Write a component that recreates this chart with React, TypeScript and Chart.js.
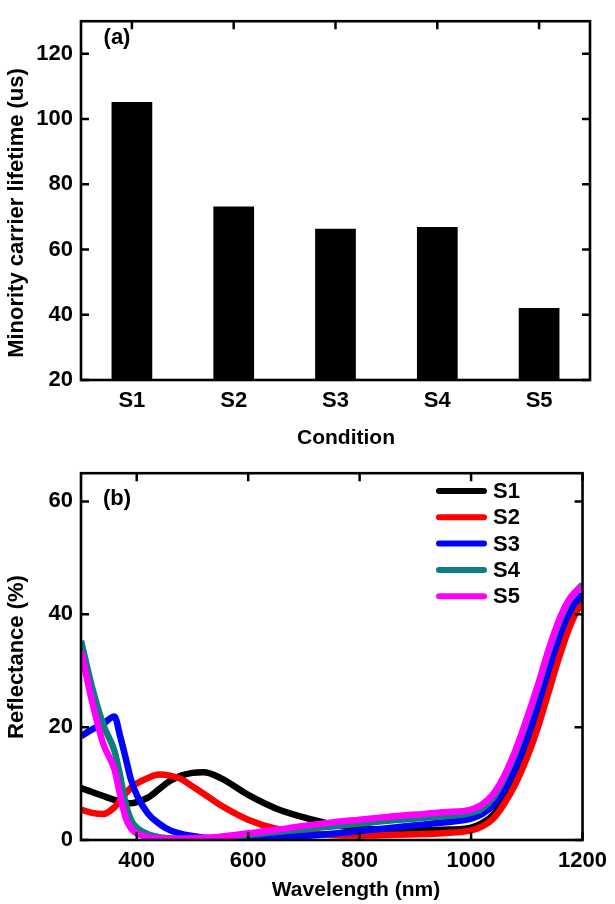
import React, { useEffect, useRef } from "react";
import { Chart, registerables } from "chart.js";

Chart.register(...registerables);

const FONT = '"Liberation Sans", Arial, Helvetica, sans-serif';

// ---- Panel (a) data ----
const conditions = ["S1", "S2", "S3", "S4", "S5"];
const lifetimes = [105.2, 73.2, 66.4, 66.9, 42.1];
const lifetimeTicks = [20, 40, 60, 80, 100, 120];

// ---- Panel (b) data ----
const wavelengths = [
  300, 320, 340, 360, 370, 380, 390, 400, 420, 440, 460, 480, 500, 520, 550, 600, 650, 700, 750, 800,
  850, 900, 950, 1000, 1020, 1040, 1060, 1080, 1100, 1120, 1140, 1160, 1180, 1200,
];
const reflS1 = [
  9.2, 8.5, 7.8, 7.1, 6.8, 6.6, 6.5, 6.7, 7.5, 9.0, 10.5, 11.4, 11.9, 12.0, 11.0, 8.0, 5.6, 4.0, 2.8, 2.1,
  1.8, 1.7, 1.8, 2.2, 3.0, 4.5, 7.5, 11.5, 16.5, 22.5, 29.0, 35.0, 40.0, 43.2,
];
const reflS2 = [
  5.4, 4.8, 4.6, 5.8, 7.0, 8.2, 9.3, 10.0, 11.0, 11.6, 11.4, 10.8, 9.5, 8.2, 6.2, 3.6, 2.0, 1.3, 0.9, 0.8,
  0.9, 1.0, 1.2, 1.7, 2.4, 3.8, 6.5, 10.0, 14.5, 20.0, 26.5, 33.0, 38.5, 42.4,
];
const reflS3 = [
  18.4, 19.6, 20.6, 21.9, 18.5, 14.6, 10.6, 8.0, 4.7, 2.9, 1.7, 1.1, 0.7, 0.4, 0.2, 0.2, 0.4, 0.7, 1.1, 1.6,
  2.1, 2.6, 3.1, 3.8, 4.6, 6.2, 9.0, 13.0, 18.0, 24.0, 30.5, 36.5, 41.0, 43.6,
];
const reflS4 = [
  35.3, 27.0, 20.4, 15.8, 11.5, 6.5, 3.5, 2.2, 1.0, 0.5, 0.3, 0.2, 0.2, 0.2, 0.4, 0.9, 1.4, 1.9, 2.4, 2.9,
  3.4, 3.8, 4.2, 4.8, 5.6, 7.5, 11.0, 15.5, 21.0, 27.0, 33.5, 39.0, 43.0, 45.3,
];
const reflS5 = [
  33.5, 24.5, 17.0, 12.5, 8.0, 4.0, 2.0, 1.2, 0.5, 0.3, 0.2, 0.2, 0.3, 0.4, 0.6, 1.2, 1.8, 2.5, 3.1, 3.6,
  4.1, 4.5, 4.9, 5.4, 6.3, 8.2, 11.5, 16.0, 21.5, 27.5, 34.0, 39.5, 43.2, 45.0,
];
const seriesNames = ["S1", "S2", "S3", "S4", "S5"];
const seriesValues = [reflS1, reflS2, reflS3, reflS4, reflS5];
const seriesColors = ["#000000", "#ff0000", "#0000ff", "#0a7f7f", "#ff00ff"];
const wavelengthTicks = [400, 600, 800, 1000, 1200];
const reflectanceTicks = [0, 20, 40, 60];

// Frame + inward ticks on all four sides
const framePlugin = {
  id: "frameTicks",
  afterDatasetsDraw(chart: any) {
    const { ctx, chartArea: a } = chart;
    const xs = chart.scales.x;
    const ys = chart.scales.y;
    const len = 8;
    ctx.save();
    ctx.strokeStyle = "#000";
    ctx.lineWidth = 2.5;
    ctx.beginPath();
    xs.ticks.forEach((_t: any, i: number) => {
      const p = xs.getPixelForTick(i);
      ctx.moveTo(p, a.bottom);
      ctx.lineTo(p, a.bottom - len);
      ctx.moveTo(p, a.top);
      ctx.lineTo(p, a.top + len);
    });
    ys.ticks.forEach((_t: any, i: number) => {
      const p = ys.getPixelForTick(i);
      ctx.moveTo(a.left, p);
      ctx.lineTo(a.left + len, p);
      ctx.moveTo(a.right, p);
      ctx.lineTo(a.right - len, p);
    });
    ctx.stroke();
    ctx.lineWidth = 2.6;
    ctx.strokeRect(a.left, a.top, a.right - a.left, a.bottom - a.top);
    ctx.restore();
  },
};

// Axis titles and panel label
const titlesPlugin = {
  id: "customTitles",
  afterDraw(chart: any, _args: any, opts: any) {
    const { ctx } = chart;
    ctx.save();
    ctx.fillStyle = "#000";
    ctx.textAlign = "center";
    ctx.textBaseline = "middle";
    ctx.font = `bold 21px ${FONT}`;
    ctx.fillText(opts.xTitle, opts.xTitleX, opts.xTitleY);
    ctx.font = `bold 22px ${FONT}`;
    ctx.fillText(opts.panel, opts.panelX, opts.panelY);
    ctx.translate(opts.yTitleX, opts.yTitleY);
    ctx.rotate(-Math.PI / 2);
    ctx.fillText(opts.yTitle, 0, 0);
    ctx.restore();
  },
};

// Legend inside plot (b)
const legendPlugin = {
  id: "innerLegend",
  afterDraw(chart: any, _args: any, opts: any) {
    if (!opts || !opts.show) return;
    const { ctx } = chart;
    ctx.save();
    ctx.lineCap = "round";
    ctx.lineWidth = 6;
    ctx.font = `bold 22px ${FONT}`;
    ctx.textAlign = "left";
    ctx.textBaseline = "middle";
    seriesNames.forEach((name, i) => {
      const y = opts.y0 + i * opts.dy;
      ctx.strokeStyle = seriesColors[i];
      ctx.beginPath();
      ctx.moveTo(opts.x0, y);
      ctx.lineTo(opts.x1, y);
      ctx.stroke();
      ctx.fillStyle = "#000";
      ctx.fillText(name, opts.tx, y + 1);
    });
    ctx.restore();
  },
};

const tickFont = { family: FONT, size: 22, weight: "bold" as const };
const plainNumber = (v: any) => String(v);

function BarPanel() {
  const ref = useRef<HTMLCanvasElement>(null);
  useEffect(() => {
    const chart = new Chart(ref.current!, {
      type: "bar",
      data: {
        labels: conditions,
        datasets: [
          {
            data: lifetimes,
            backgroundColor: "#000",
            borderWidth: 0,
            barPercentage: 0.4,
            categoryPercentage: 1.0,
          },
        ],
      },
      options: {
        animation: false,
        responsive: false,
        devicePixelRatio: 1,
        layout: { padding: { left: 0, right: 25, top: 8, bottom: 0 } },
        plugins: {
          legend: { display: false },
          tooltip: { enabled: false },
          customTitles: {
            xTitle: "Condition",
            xTitleX: 346,
            xTitleY: 438,
            yTitle: "Minority carrier lifetime (us)",
            yTitleX: 17,
            yTitleY: 213,
            panel: "(a)",
            panelX: 117,
            panelY: 38,
          },
        } as any,
        scales: {
          x: {
            grid: { display: false, drawTicks: false },
            border: { display: false },
            ticks: { color: "#000", font: tickFont, padding: 8 },
            afterFit: (s: any) => {
              s.height = 72;
            },
          },
          y: {
            min: 20,
            max: 130,
            grid: { display: false, drawTicks: false },
            border: { display: false },
            ticks: { color: "#000", font: tickFont, padding: 8, callback: plainNumber },
            afterBuildTicks: (s: any) => {
              s.ticks = lifetimeTicks.map((v) => ({ value: v }));
            },
            afterFit: (s: any) => {
              s.width = 81;
            },
          },
        },
      },
      plugins: [framePlugin, titlesPlugin],
    });
    return () => chart.destroy();
  }, []);
  return <canvas ref={ref} width={615} height={452} style={{ display: "block" }} />;
}

function LinePanel() {
  const ref = useRef<HTMLCanvasElement>(null);
  useEffect(() => {
    const chart = new Chart(ref.current!, {
      type: "line",
      data: {
        datasets: seriesNames.map((name, i) => ({
          label: name,
          data: wavelengths.map((w, j) => ({ x: w, y: seriesValues[i][j] })),
          borderColor: seriesColors[i],
          backgroundColor: seriesColors[i],
          borderWidth: 6.5,
          pointRadius: 0,
          cubicInterpolationMode: "monotone" as const,
          fill: false,
          order: seriesNames.length - 1 - i,
        })),
      },
      options: {
        animation: false,
        responsive: false,
        devicePixelRatio: 1,
        layout: { padding: { left: 0, right: 25, top: 16, bottom: 0 } },
        plugins: {
          legend: { display: false },
          tooltip: { enabled: false },
          customTitles: {
            xTitle: "Wavelength (nm)",
            xTitleX: 356,
            xTitleY: 438,
            yTitle: "Reflectance (%)",
            yTitleX: 17,
            yTitleY: 205,
            panel: "(b)",
            panelX: 117,
            panelY: 47,
          },
          innerLegend: { show: true, x0: 439, x1: 484, y0: 39, dy: 26.3, tx: 493 },
        } as any,
        scales: {
          x: {
            type: "linear",
            min: 300,
            max: 1200,
            grid: { display: false, drawTicks: false },
            border: { display: false },
            ticks: { color: "#000", font: tickFont, padding: 8, callback: plainNumber },
            afterBuildTicks: (s: any) => {
              s.ticks = wavelengthTicks.map((v) => ({ value: v }));
            },
            afterFit: (s: any) => {
              s.height = 64;
            },
          },
          y: {
            min: 0,
            max: 65,
            grid: { display: false, drawTicks: false },
            border: { display: false },
            ticks: { color: "#000", font: tickFont, padding: 8, callback: plainNumber },
            afterBuildTicks: (s: any) => {
              s.ticks = reflectanceTicks.map((v) => ({ value: v }));
            },
            afterFit: (s: any) => {
              s.width = 81;
            },
          },
        },
      },
      plugins: [framePlugin, titlesPlugin, legendPlugin],
    });
    return () => chart.destroy();
  }, []);
  return <canvas ref={ref} width={615} height={452} style={{ display: "block" }} />;
}

export default function App() {
  return (
    <div
      style={{
        position: "absolute",
        left: 0,
        top: 0,
        width: 615,
        height: 904,
        background: "#fff",
      }}
    >
      <BarPanel />
      <LinePanel />
    </div>
  );
}
